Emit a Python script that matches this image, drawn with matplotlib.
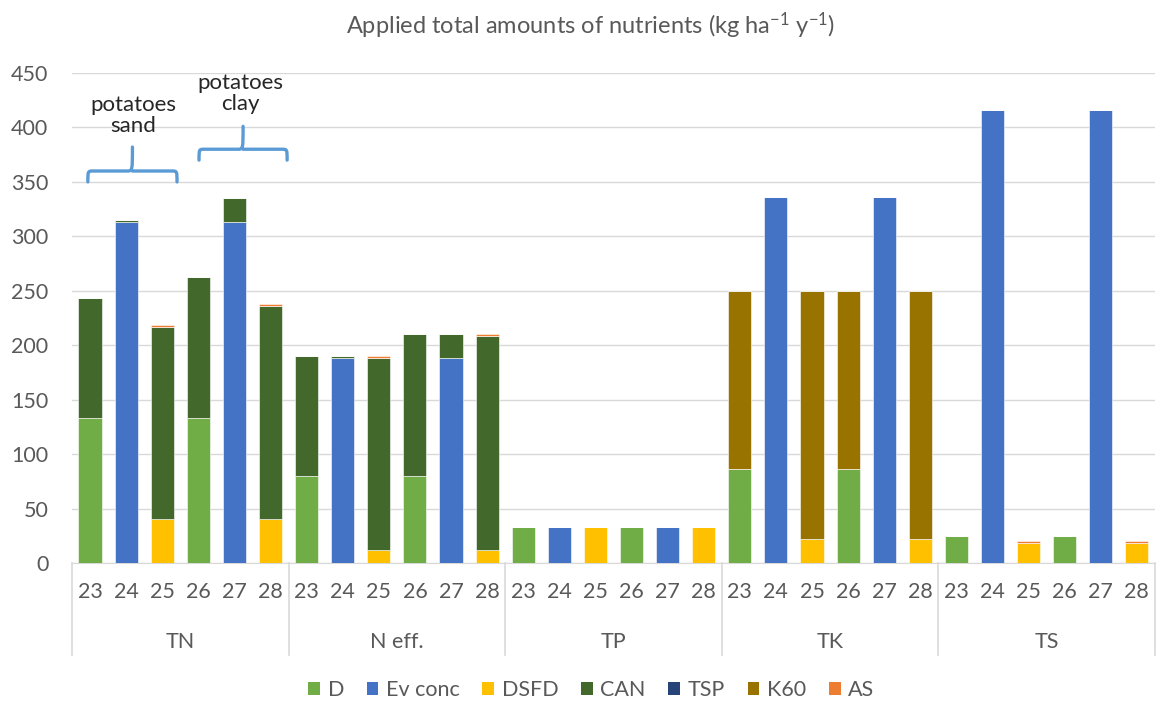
import numpy as np
import matplotlib
matplotlib.use('Agg')
import matplotlib.pyplot as plt
from matplotlib.patches import Patch
from matplotlib.path import Path
from matplotlib.patches import PathPatch

plt.rcParams['font.family'] = ['Lato', 'DejaVu Sans']
plt.rcParams['mathtext.fontset'] = 'custom'
plt.rcParams['mathtext.rm'] = 'Lato'
plt.rcParams['mathtext.default'] = 'regular'

# ------------------------------------------------------------
# Data (kg ha-1 y-1)
# 5 nutrient groups x 6 treatments (23..28)
# ------------------------------------------------------------
groups = ['TN', 'N eff.', 'TP', 'TK', 'TS']
treatments = ['23', '24', '25', '26', '27', '28']

D = [133, 0, 0, 133, 0, 0,
     80, 0, 0, 80, 0, 0,
     33, 0, 0, 33, 0, 0,
     86, 0, 0, 86, 0, 0,
     25, 0, 0, 25, 0, 0]
ev_conc = [0, 313, 0, 0, 313, 0,
           0, 188, 0, 0, 188, 0,
           0, 33, 0, 0, 33, 0,
           0, 336, 0, 0, 336, 0,
           0, 416, 0, 0, 416, 0]
DSFD = [0, 0, 40, 0, 0, 40,
        0, 0, 12, 0, 0, 12,
        0, 0, 33, 0, 0, 33,
        0, 0, 22, 0, 0, 22,
        0, 0, 18, 0, 0, 18]
CAN = [110, 2, 177, 130, 22, 196,
       110, 2, 176.5, 130, 22, 196.5,
       0, 0, 0, 0, 0, 0,
       0, 0, 0, 0, 0, 0,
       0, 0, 0, 0, 0, 0]
TSP = [0] * 30
K60 = [0, 0, 0, 0, 0, 0,
       0, 0, 0, 0, 0, 0,
       0, 0, 0, 0, 0, 0,
       164, 0, 228, 164, 0, 228,
       0, 0, 0, 0, 0, 0]
AS = [0, 0, 2, 0, 0, 2,
      0, 0, 1.5, 0, 0, 1.5,
      0, 0, 0, 0, 0, 0,
      0, 0, 0, 0, 0, 0,
      0, 0, 2, 0, 0, 2]

series = [('D', D, '#70AD47'),
          ('Ev conc', ev_conc, '#4472C4'),
          ('DSFD', DSFD, '#FFC000'),
          ('CAN', CAN, '#43682B'),
          ('TSP', TSP, '#264478'),
          ('K60', K60, '#997300'),
          ('AS', AS, '#ED7D31')]

grey = '#595959'

fig = plt.figure(figsize=(11.57, 7.04), dpi=100)
ax = fig.add_axes([0.0622, 0.2003, 0.936, 0.696])

x = np.arange(len(groups) * len(treatments))
bottom = np.zeros(len(x))
for name, vals, col in series:
    vals = np.array(vals, dtype=float)
    ax.bar(x, vals, 0.64, bottom=bottom, color=col, edgecolor='white',
           linewidth=0.4, zorder=3)
    bottom += vals

ax.set_xlim(-0.5, len(x) - 0.5)
ax.set_ylim(0, 450)
ax.set_yticks(np.arange(0, 451, 50))
ax.yaxis.grid(True, color='#D9D9D9', linewidth=1.0, zorder=0)
for s in ['top', 'right', 'left']:
    ax.spines[s].set_visible(False)
ax.spines['bottom'].set_color('#D9D9D9')
ax.tick_params(axis='y', length=0, pad=17, labelsize=15.5, labelcolor=grey)

# first level: treatment numbers
ax.set_xticks(x)
ax.set_xticklabels(treatments * len(groups))
ax.tick_params(axis='x', length=0, pad=14, labelsize=15.5, labelcolor=grey)

# second level: group names and separators
xt = ax.get_xaxis_transform()
for i, g in enumerate(groups):
    ax.text(i * 6 + 2.5, -0.161, g, transform=xt, ha='center', va='center',
            fontsize=15.5, color=grey)
for b in range(len(groups) + 1):
    ax.plot([b * 6 - 0.5, b * 6 - 0.5], [0, -0.188], transform=xt,
            color='#D9D9D9', linewidth=1.2, clip_on=False)

# curly braces for potato soils
def brace(x0, x1, y_end, y_mid, y_tip):
    xm = (x0 + x1) / 2
    r = (x1 - x0) * 0.06
    verts = [(x0, y_end), (x0, y_mid), (x0, y_mid), (x0 + r, y_mid),
             (xm - r, y_mid), (xm, y_mid), (xm, y_mid), (xm, y_tip),
             (xm, y_mid), (xm, y_mid), (xm + r, y_mid),
             (x1 - r, y_mid), (x1, y_mid), (x1, y_mid), (x1, y_end)]
    codes = [Path.MOVETO, Path.CURVE4, Path.CURVE4, Path.CURVE4,
             Path.LINETO, Path.CURVE4, Path.CURVE4, Path.CURVE4,
             Path.MOVETO, Path.CURVE4, Path.CURVE4,
             Path.LINETO, Path.CURVE4, Path.CURVE4, Path.CURVE4]
    ax.add_patch(PathPatch(Path(verts, codes), facecolor='none',
                           edgecolor='#5B9BD5', linewidth=2.4, zorder=4,
                           capstyle='round', joinstyle='round'))

brace(-0.06, 2.41, 350, 360, 382)
brace(3.02, 5.46, 370, 380, 401)
ax.text(1.19, 411, 'potatoes\nsand', ha='center', va='center', fontsize=16,
        color='#262626', linespacing=1.1)
ax.text(4.16, 431, 'potatoes\nclay', ha='center', va='center', fontsize=16,
        color='#262626', linespacing=1.1)

fig.text(0.51, 0.963, 'Applied total amounts of nutrients (kg ha$^{-1}$ y$^{-1}$)',
         ha='center', va='center', fontsize=17, color=grey)

handles = [Patch(facecolor=c, label=n) for n, v, c in series]
fig.legend(handles=handles, loc='center', bbox_to_anchor=(0.511, 0.02),
           ncol=7, frameon=False, fontsize=15.5, handlelength=0.55,
           handleheight=0.55, handletextpad=0.35, columnspacing=1.05,
           labelcolor=grey)

fig.savefig('out.png', dpi=100)
